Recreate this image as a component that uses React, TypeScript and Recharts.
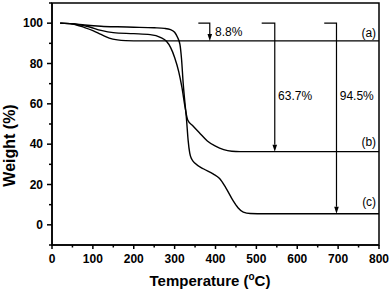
import React from 'react';
import { LineChart, Line, XAxis, YAxis, ReferenceArea, ReferenceLine, ReferenceDot } from 'recharts';

// curve (a)
const tempA = [20, 50, 80, 100, 120, 140, 160, 180, 220, 300, 400, 500, 600, 700, 800];
const weightA = [100, 99.6, 97.8, 96.3, 94.4, 92.6, 91.7, 91.35, 91.2, 91.2, 91.2, 91.2, 91.2, 91.2, 91.2];

// curve (b)
const tempB = [20, 60, 90, 120, 150, 200, 240, 265, 280, 290, 300, 310, 318, 325, 332, 345, 360, 380, 400, 420, 440, 460, 500, 800];
const weightB = [100, 99.4, 98.2, 96.4, 95.3, 94.8, 94.3, 93, 91, 88, 83, 76, 68, 59, 52, 49, 45.8, 41.6, 39, 37.3, 36.5, 36.3, 36.3, 36.3];

// curve (c)
const tempC = [20, 50, 80, 120, 160, 200, 250, 275, 290, 300, 307, 313, 317, 321, 325, 329, 333, 337, 342, 350, 370, 394, 410, 425, 443, 455, 468, 485, 520, 800];
const weightC = [100, 99.7, 99.1, 98.5, 98.2, 98, 97.7, 97.4, 96.8, 95.5, 93, 89.5, 82, 70, 61, 52.5, 42, 35.5, 32.5, 30.5, 27.8, 25.3, 23, 18.5, 12, 8.5, 6.3, 5.6, 5.5, 5.5];

const xTicks = [0, 50, 100, 150, 200, 250, 300, 350, 400, 450, 500, 550, 600, 650, 700, 750, 800];
const yTicks = [-10, 0, 10, 20, 30, 40, 50, 60, 70, 80, 90, 100, 110];

// weight-loss arrows: bracket start, arrow temperature, final weight
const lossLabels = ['8.8%', '63.7%', '94.5%'];
const lossStart = [358, 513, 666];
const lossAt = [386, 545, 696];
const lossEnd = [91.2, 36.3, 5.5];
const lossTextT = [399, 553, 704];
const lossTextW = [95.7, 64.1, 64.1];

const curveNames = ['(a)', '(b)', '(c)'];
const curveNameW = [95.4, 41, 11.2];

const toPoints = (t: number[], w: number[]) => t.map((v, i) => ({ t: v, w: w[i] }));
const dataA = toPoints(tempA, weightA);
const dataB = toPoints(tempB, weightB);
const dataC = toPoints(tempC, weightC);

const FONT = '"Liberation Sans", Arial, sans-serif';

const XTick = ({ x, y, payload }: any) => {
  const major = payload.value % 100 === 0;
  return (
    <g>
      <line x1={x} y1={y} x2={x} y2={y + (major ? 4 : 2.5)} stroke="#000" strokeWidth={1.5} />
      {major && (
        <text x={x} y={y + 18} textAnchor="middle" fontFamily={FONT} fontWeight="bold" fontSize={12} fill="#000">
          {payload.value}
        </text>
      )}
    </g>
  );
};

const YTick = ({ x, y, payload }: any) => {
  const major = payload.value % 20 === 0;
  return (
    <g>
      <line x1={x} y1={y} x2={x - (major ? 5 : 3)} y2={y} stroke="#000" strokeWidth={1.5} />
      {major && (
        <text x={x - 9} y={y + 4.3} textAnchor="end" fontFamily={FONT} fontWeight="bold" fontSize={12} fill="#000">
          {payload.value}
        </text>
      )}
    </g>
  );
};

const Elbow = (props: any) => {
  const { x1, y1, x2, y2 } = props;
  const h = 7;
  const w = 2.3;
  return (
    <g>
      <path d={`M${x1},${y1}H${x2}V${y2 - h}`} fill="none" stroke="#000" strokeWidth={1.2} />
      <path d={`M${x2 - w},${y2 - h}L${x2 + w},${y2 - h}L${x2},${y2}Z`} fill="#000" />
    </g>
  );
};

const note = (text: string, anchor: string) => (p: any) => (
  <text x={p.cx} y={p.cy} dy="0.35em" textAnchor={anchor} fontFamily={FONT} fontSize={12} fill="#000">
    {text}
  </text>
);

export default function App() {
  return (
    <div style={{ position: 'absolute', left: 0, top: 0, background: '#fff' }}>
      <LineChart width={392} height={292} margin={{ top: 3, right: 13, left: 0, bottom: 0 }}>
        <XAxis
          dataKey="t"
          type="number"
          domain={[0, 800]}
          ticks={xTicks}
          interval={0}
          height={47}
          tickSize={0}
          tickMargin={0}
          tickLine={false}
          axisLine={{ stroke: '#000', strokeWidth: 1.5 }}
          tick={<XTick />}
          allowDataOverflow
        />
        <YAxis
          dataKey="w"
          type="number"
          domain={[-10, 110]}
          ticks={yTicks}
          interval={0}
          width={52}
          tickSize={0}
          tickMargin={0}
          tickLine={false}
          axisLine={{ stroke: '#000', strokeWidth: 1.5 }}
          tick={<YTick />}
          allowDataOverflow
        />
        <ReferenceArea x1={0} x2={800} y1={-10} y2={110} fill="none" stroke="#000" strokeWidth={1.5} />
        <Line data={dataA} dataKey="w" type="monotone" stroke="#000" strokeWidth={1.4} dot={false} isAnimationActive={false} />
        <Line data={dataB} dataKey="w" type="monotone" stroke="#000" strokeWidth={1.4} dot={false} isAnimationActive={false} />
        <Line data={dataC} dataKey="w" type="monotone" stroke="#000" strokeWidth={1.4} dot={false} isAnimationActive={false} />
        {lossLabels.map((lab, i) => (
          <ReferenceLine
            key={'arr' + i}
            segment={[{ x: lossStart[i], y: 100 }, { x: lossAt[i], y: lossEnd[i] }]}
            shape={Elbow}
          />
        ))}
        {lossLabels.map((lab, i) => (
          <ReferenceDot key={'lab' + i} x={lossTextT[i]} y={lossTextW[i]} r={0} shape={note(lab, 'start')} />
        ))}
        {curveNames.map((n, i) => (
          <ReferenceDot key={'cn' + i} x={793} y={curveNameW[i]} r={0} shape={note(n, 'end')} />
        ))}
      </LineChart>
      <svg width={392} height={292} style={{ position: 'absolute', left: 0, top: 0, pointerEvents: 'none' }}>
        <text transform="translate(15,145.5) rotate(-90)" textAnchor="middle" fontFamily={FONT} fontWeight="bold" fontSize={16} fill="#000">
          Weight (%)
        </text>
        <text x={210} y={286} textAnchor="middle" fontFamily={FONT} fontWeight="bold" fontSize={15} fill="#000">
          Temperature (<tspan fontSize={10} dy={-6}>o</tspan><tspan dy={6}>C)</tspan>
        </text>
      </svg>
    </div>
  );
}
